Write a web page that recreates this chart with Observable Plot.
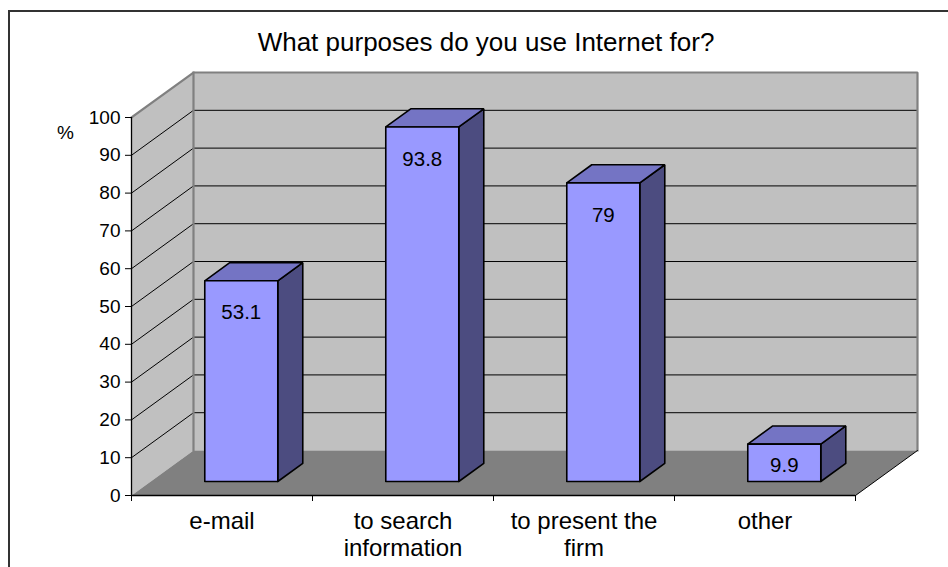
<!DOCTYPE html>
<html>
<head>
<meta charset="utf-8">
<script src="https://cdn.jsdelivr.net/npm/d3@7"></script>
<script src="https://cdn.jsdelivr.net/npm/@observablehq/plot@0.6"></script>
<style>
  html, body { margin: 0; padding: 0; background: #fff; overflow: hidden; }
  #wrap { position: relative; width: 948px; height: 567px; overflow: hidden; font-family: "Liberation Sans", Arial, sans-serif; }
  #frame { position: absolute; left: 8px; top: 10px; width: 2000px; height: 2000px; border-left: 2px solid #333; border-top: 2px solid #333; }
  #title { position: absolute; top: 27px; left: 486px; transform: translateX(-50%); white-space: nowrap; font-size: 26px; line-height: 30px; color: #000; }
  #chart { position: absolute; left: 0; top: 60px; }
</style>
</head>
<body>
<div id="wrap">
  <div id="frame"></div>
  <div id="title">What purposes do you use Internet for?</div>
  <div id="chart"></div>
</div>
<script>
// ---- data ----
const categories = ["e-mail", "to search\ninformation", "to present the\nfirm", "other"];
const values = [53.1, 93.8, 79, 9.9];
const yTicks = [0, 10, 20, 30, 40, 50, 60, 70, 80, 90, 100];
const yMax = 100;
const yAxisLabel = "%";

// ---- 3D projection settings (in data units) ----
const N = categories.length;
const DX = 0.3425;   // depth offset along x (category units)
const DY = 11.9;     // depth offset along y (value units)
const D0 = 0.311, D1 = 0.714; // bar front/back depth fractions
const HW = 0.2017;   // bar half width

// walls & floor polygons
const walls = [];
function poly(id, pts) { pts.concat([pts[0]]).forEach(([x, y]) => walls.push({id, x, y})); }
poly("side", [[0, 0], [DX, DY], [DX, yMax + DY], [0, yMax]]);
poly("back", [[DX, DY], [N + DX, DY], [N + DX, yMax + DY], [DX, yMax + DY]]);
const floorPts = [[0, 0], [N, 0], [N + DX, DY], [DX, DY], [0, 0]].map(([x, y]) => ({x, y}));

// grid lines (back + side wall)
const grid = [];
yTicks.filter(v => v > 0 && v < yMax).forEach(v => {
  grid.push({id: "b" + v, x: DX, y: v + DY}, {id: "b" + v, x: N + DX, y: v + DY});
  grid.push({id: "s" + v, x: 0, y: v}, {id: "s" + v, x: DX, y: v + DY});
});
// gray wall edges
const edges = [
  {id: "e1", x: 0, y: yMax}, {id: "e1", x: DX, y: yMax + DY}, {id: "e1", x: N + DX, y: yMax + DY}, {id: "e1", x: N + DX, y: DY},
  {id: "e2", x: DX, y: DY}, {id: "e2", x: DX, y: yMax + DY}
];
const floorEdge = [{x: N, y: 0}, {x: N + DX, y: DY}];

// bars
const barFront = [], barTop = [], barSide = [];
const bdx = (D1 - D0) * DX, bdy = (D1 - D0) * DY;
values.forEach((v, i) => {
  const cx = i + 0.5;
  const x0 = cx - HW + D0 * DX, x1 = cx + HW + D0 * DX;
  const b = D0 * DY, t = v + D0 * DY;
  [[x0, b], [x1, b], [x1, t], [x0, t], [x0, b]].forEach(([x, y]) => barFront.push({id: i, x, y}));
  [[x0, t], [x1, t], [x1 + bdx, t + bdy], [x0 + bdx, t + bdy], [x0, t]].forEach(([x, y]) => barTop.push({id: i, x, y}));
  [[x1, b], [x1 + bdx, b + bdy], [x1 + bdx, t + bdy], [x1, t], [x1, b]].forEach(([x, y]) => barSide.push({id: i, x, y}));
});
const valueLabels = values.map((v, i) => ({
  x: i + 0.5 + D0 * DX,
  y: Math.max(v - 8.5, v * 0.42) + D0 * DY,
  text: String(v)
}));
const catLabels = categories.map((c, i) => ({x: i + 0.5, text: c}));

const chart = Plot.plot({
  width: 948,
  height: 507,
  marginLeft: 131,
  marginRight: 31,
  marginTop: 57,
  marginBottom: 72,
  x: {domain: [0, N + DX], axis: null},
  y: {domain: [0, yMax], axis: null},
  style: {background: "transparent", fontFamily: "'Liberation Sans', Arial, sans-serif", overflow: "visible", color: "#000"},
  marks: [
    Plot.line(walls, {x: "x", y: "y", z: "id", fill: "#C0C0C0", stroke: "none", curve: "linear"}),
    Plot.line(floorPts, {x: "x", y: "y", fill: "#808080", stroke: "none", curve: "linear"}),
    Plot.line(grid, {x: "x", y: "y", z: "id", stroke: "#000", strokeWidth: 1, curve: "linear"}),
    Plot.line(edges, {x: "x", y: "y", z: "id", stroke: "#808080", strokeWidth: 2.2, strokeLinecap: "square", strokeLinejoin: "miter", curve: "linear"}),
    Plot.line(floorEdge, {x: "x", y: "y", stroke: "#000", strokeWidth: 1, curve: "linear"}),
    Plot.line(barSide, {x: "x", y: "y", z: "id", fill: "#4C4C80", stroke: "#000", strokeWidth: 1.6, strokeLinejoin: "miter", curve: "linear"}),
    Plot.line(barTop, {x: "x", y: "y", z: "id", fill: "#7474C4", stroke: "#000", strokeWidth: 1.6, strokeLinejoin: "miter", curve: "linear"}),
    Plot.line(barFront, {x: "x", y: "y", z: "id", fill: "#9999FF", stroke: "#000", strokeWidth: 1.6, strokeLinejoin: "miter", curve: "linear"}),
    Plot.text(valueLabels, {x: "x", y: "y", text: "text", fontSize: 20.5, fill: "#000", textAnchor: "middle", lineAnchor: "middle"}),
    Plot.ruleX([0], {y1: 0, y2: yMax, stroke: "#000", strokeWidth: 1.3}),
    Plot.ruleY([0], {x1: 0, x2: N, stroke: "#000", strokeWidth: 1.3}),
    Plot.axisY({ticks: yTicks, tickSize: 6, tickPadding: 5, fontSize: 19, label: null, stroke: "#000"}),
    Plot.axisX({ticks: d3.range(0, N + 1), tickSize: 6, tickFormat: () => "", label: null, stroke: "#000"}),
    Plot.text(catLabels, {x: "x", text: "text", frameAnchor: "bottom", lineAnchor: "top", dy: 15, fontSize: 24, lineHeight: 1.1, fill: "#000", textAnchor: "middle"}),
    Plot.text([yAxisLabel], {frameAnchor: "top-left", dx: -66, dy: 15, fontSize: 19, fill: "#000", textAnchor: "middle", lineAnchor: "middle"})
  ]
});
document.getElementById("chart").appendChild(chart);
</script>
</body>
</html>
